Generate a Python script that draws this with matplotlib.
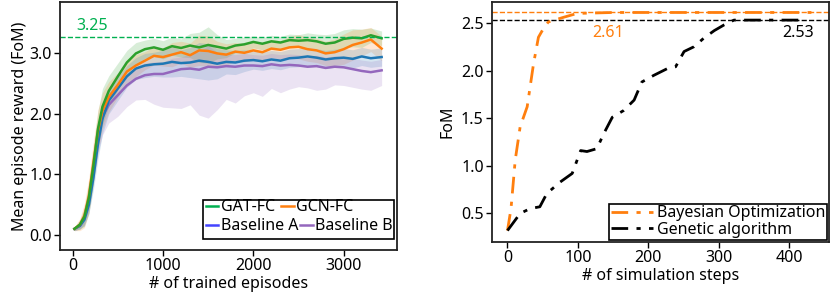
import matplotlib

matplotlib.use("Agg")
import matplotlib.pyplot as plt
from matplotlib.lines import Line2D
from matplotlib.patches import Rectangle
import numpy as np

plt.rcParams["font.family"] = ["Noto Sans", "DejaVu Sans"]
plt.rcParams["font.size"] = 11.5

# ---- left panel: training curves ----
episodes = [20, 80, 130, 180, 230, 280, 330, 400, 500, 600, 700, 800, 900,
            1000, 1100, 1200, 1300, 1400, 1500, 1600, 1700, 1800, 1900, 2000,
            2100, 2200, 2300, 2400, 2500, 2600, 2700, 2800, 2900, 3000, 3100,
            3200, 3300, 3420]

gat_fc = [0.10, 0.17, 0.30, 0.62, 1.15, 1.75, 2.12, 2.38, 2.62, 2.85, 3.00, 3.07, 3.10,
          3.06, 3.12, 3.09, 3.13, 3.10, 3.14, 3.11, 3.08, 3.13, 3.15, 3.19, 3.16, 3.20,
          3.18, 3.22, 3.21, 3.22, 3.20, 3.16, 3.18, 3.24, 3.26, 3.25, 3.30, 3.25]
gcn_fc = [0.10, 0.17, 0.32, 0.65, 1.20, 1.72, 2.05, 2.28, 2.48, 2.70, 2.80, 2.88, 2.96,
          2.94, 2.98, 3.02, 2.97, 3.05, 3.04, 3.00, 2.98, 3.03, 3.01, 3.05, 3.02, 3.08,
          3.06, 3.10, 3.11, 3.07, 3.05, 3.00, 3.02, 3.07, 3.14, 3.18, 3.23, 3.08]
base_a = [0.10, 0.15, 0.25, 0.50, 0.95, 1.50, 1.92, 2.22, 2.42, 2.62, 2.75, 2.80, 2.82,
          2.83, 2.86, 2.84, 2.85, 2.88, 2.86, 2.83, 2.86, 2.85, 2.88, 2.89, 2.87, 2.90,
          2.88, 2.92, 2.93, 2.95, 2.93, 2.90, 2.92, 2.93, 2.91, 2.95, 2.92, 2.94]
base_b = [0.10, 0.15, 0.28, 0.58, 1.10, 1.60, 1.95, 2.15, 2.31, 2.47, 2.58, 2.64, 2.66,
          2.66, 2.70, 2.74, 2.75, 2.73, 2.78, 2.77, 2.79, 2.78, 2.80, 2.80, 2.79, 2.82,
          2.80, 2.81, 2.80, 2.78, 2.79, 2.76, 2.78, 2.77, 2.74, 2.71, 2.69, 2.72]

# band half widths (spread across runs)
gat_hw = [0.03, 0.08, 0.15, 0.25, 0.30, 0.30, 0.30, 0.25, 0.22, 0.20, 0.18, 0.15, 0.15,
          0.15, 0.15, 0.15, 0.20, 0.25, 0.30, 0.20, 0.15, 0.12, 0.12, 0.10, 0.10, 0.10,
          0.10, 0.10, 0.10, 0.12, 0.12, 0.15, 0.15, 0.15, 0.15, 0.15, 0.12, 0.12]
gcn_hw = [0.03, 0.10, 0.20, 0.30, 0.35, 0.35, 0.30, 0.25, 0.20, 0.20, 0.18, 0.15, 0.15,
          0.15, 0.20, 0.18, 0.20, 0.25, 0.25, 0.20, 0.18, 0.15, 0.15, 0.15, 0.15, 0.15,
          0.15, 0.18, 0.20, 0.20, 0.20, 0.20, 0.22, 0.25, 0.25, 0.22, 0.20, 0.20]
base_a_hw = [0.03, 0.05, 0.10, 0.15, 0.20, 0.25, 0.25, 0.22, 0.20, 0.18, 0.18, 0.20, 0.20,
             0.22, 0.25, 0.22, 0.25, 0.30, 0.30, 0.25, 0.20, 0.20, 0.18, 0.15, 0.15, 0.15,
             0.15, 0.15, 0.15, 0.15, 0.15, 0.15, 0.15, 0.15, 0.15, 0.15, 0.15, 0.15]
base_b_lo = [0.03, 0.05, 0.10, 0.15, 0.20, 0.25, 0.30, 0.30, 0.35, 0.35, 0.35, 0.40, 0.50,
             0.55, 0.60, 0.65, 0.60, 0.75, 0.85, 0.70, 0.55, 0.60, 0.50, 0.45, 0.50, 0.40,
             0.45, 0.40, 0.35, 0.35, 0.40, 0.35, 0.30, 0.30, 0.30, 0.30, 0.30, 0.25]
base_b_hi = [0.03, 0.05, 0.10, 0.15, 0.20, 0.20, 0.20, 0.20, 0.20, 0.20, 0.20, 0.20, 0.20,
             0.20, 0.22, 0.20, 0.25, 0.30, 0.35, 0.25, 0.20, 0.20, 0.20, 0.18, 0.18, 0.18,
             0.18, 0.18, 0.18, 0.18, 0.18, 0.18, 0.18, 0.18, 0.18, 0.18, 0.18, 0.18]

best_reward = 3.27
best_label = "3.25"

# ---- right panel: optimizer baselines ----
bo_steps = [0, 5, 11, 18, 28, 37, 44, 51, 58, 80, 99, 150, 200, 300, 432]
bo_fom = [0.32, 0.55, 1.06, 1.41, 1.62, 2.07, 2.35, 2.44, 2.51, 2.56, 2.60, 2.61, 2.61, 2.61, 2.61]

ga_steps = [0, 18, 32, 46, 56, 75, 92, 104, 113, 127, 137, 149, 165, 180, 191, 208,
            227, 239, 251, 265, 279, 294, 308, 322, 340, 380, 423]
ga_fom = [0.32, 0.50, 0.55, 0.57, 0.71, 0.83, 0.92, 1.16, 1.15, 1.18, 1.34, 1.51, 1.58,
          1.69, 1.88, 1.95, 2.02, 2.04, 2.20, 2.25, 2.34, 2.42, 2.48, 2.53, 2.53, 2.53, 2.53]

bo_best = 2.615
ga_best = 2.528

c_green = "#2ca02c"
c_orange = "#ff7f0e"
c_blue = "#1f77b4"
c_purple = "#9467bd"

fig = plt.figure(figsize=(8.31, 2.96), dpi=100)
ax1 = fig.add_axes([60 / 831, 46 / 296, 337 / 831, 248 / 296])
ax2 = fig.add_axes([492 / 831, 54 / 296, 337 / 831, 240 / 296])

ep = np.array(episodes)
series = [
    (gat_fc, gat_hw, gat_hw, c_green),
    (gcn_fc, gcn_hw, gcn_hw, c_orange),
    (base_a, base_a_hw, base_a_hw, c_blue),
    (base_b, base_b_lo, base_b_hi, c_purple),
]
for mean, lo, hi, color in series:
    m = np.array(mean)
    ax1.fill_between(ep, m - np.array(lo), m + np.array(hi), color=color, alpha=0.18, lw=0)
for mean, lo, hi, color in series[::-1]:
    ax1.plot(ep, mean, color=color, lw=1.8)

ax1.axhline(best_reward, color="#00b050", ls="--", lw=1.0)
ax1.text(37, 3.45, best_label, color="#00b050", va="center")

ax1.set_xlim(-140, 3590)
ax1.set_ylim(-0.25, 3.85)
ax1.set_xticks([0, 1000, 2000, 3000])
ax1.set_yticks([0.0, 1.0, 2.0, 3.0])
ax1.set_yticklabels(["0.0", "1.0", "2.0", "3.0"])
ax1.set_xlabel("# of trained episodes", labelpad=1)
ax1.set_ylabel("Mean episode reward (FoM)", labelpad=1)

# legend rows flow independently in the reference, so one frame + two frameless rows
ax1.add_patch(Rectangle((0.424, 0.045), 0.566, 0.156, transform=ax1.transAxes,
                        facecolor="white", edgecolor="black", lw=1.2, zorder=4.5))
row_kw = dict(ncol=2, loc="upper left", handlelength=0.8, handletextpad=0.15,
              borderpad=0.0, frameon=False, borderaxespad=0)
leg_top = ax1.legend([Line2D([], [], color="#00b050", lw=1.8),
                      Line2D([], [], color=c_orange, lw=1.8)],
                     ["GAT-FC", "GCN-FC"], bbox_to_anchor=(0.432, 0.205),
                     columnspacing=0.4, **row_kw)
ax1.add_artist(leg_top)
ax1.legend([Line2D([], [], color="#4444ff", lw=1.8),
            Line2D([], [], color=c_purple, lw=1.8)],
           ["Baseline A", "Baseline B"], bbox_to_anchor=(0.432, 0.128),
           columnspacing=0.1, **row_kw)

ax2.axhline(bo_best, color=c_orange, ls="--", lw=1.0)
ax2.axhline(ga_best, color="black", ls="--", lw=1.0)
ax2.plot(bo_steps, bo_fom, color=c_orange, ls=(0, (6, 3, 1.5, 3)), lw=2.0,
         label="Bayesian Optimization")
ax2.plot(ga_steps, ga_fom, color="black", ls=(0, (6, 3, 1.5, 3)), lw=2.0,
         label="Genetic algorithm")
ax2.text(120, 2.39, "2.61", color=c_orange, va="center")
ax2.text(391, 2.39, "2.53", color="black", va="center")

ax2.set_xlim(-22, 457)
ax2.set_ylim(0.2, 2.72)
ax2.set_xticks([0, 100, 200, 300, 400])
ax2.set_yticks([0.5, 1.0, 1.5, 2.0, 2.5])
ax2.set_xlabel("# of simulation steps", labelpad=1)
ax2.set_ylabel("FoM", labelpad=4)
leg2 = ax2.legend(loc="lower right", bbox_to_anchor=(0.995, 0.01), handlelength=2.6,
                  handletextpad=0.3, borderpad=0.1, labelspacing=0.05,
                  fancybox=False, framealpha=1, borderaxespad=0)
leg2.get_frame().set_edgecolor("black")
leg2.get_frame().set_linewidth(1.2)

for ax in (ax1, ax2):
    for sp in ax.spines.values():
        sp.set_linewidth(1.3)
        sp.set_color("#222222")
    ax.tick_params(direction="out", length=4, width=1.0, pad=2)

fig.savefig("out.png", dpi=100)
